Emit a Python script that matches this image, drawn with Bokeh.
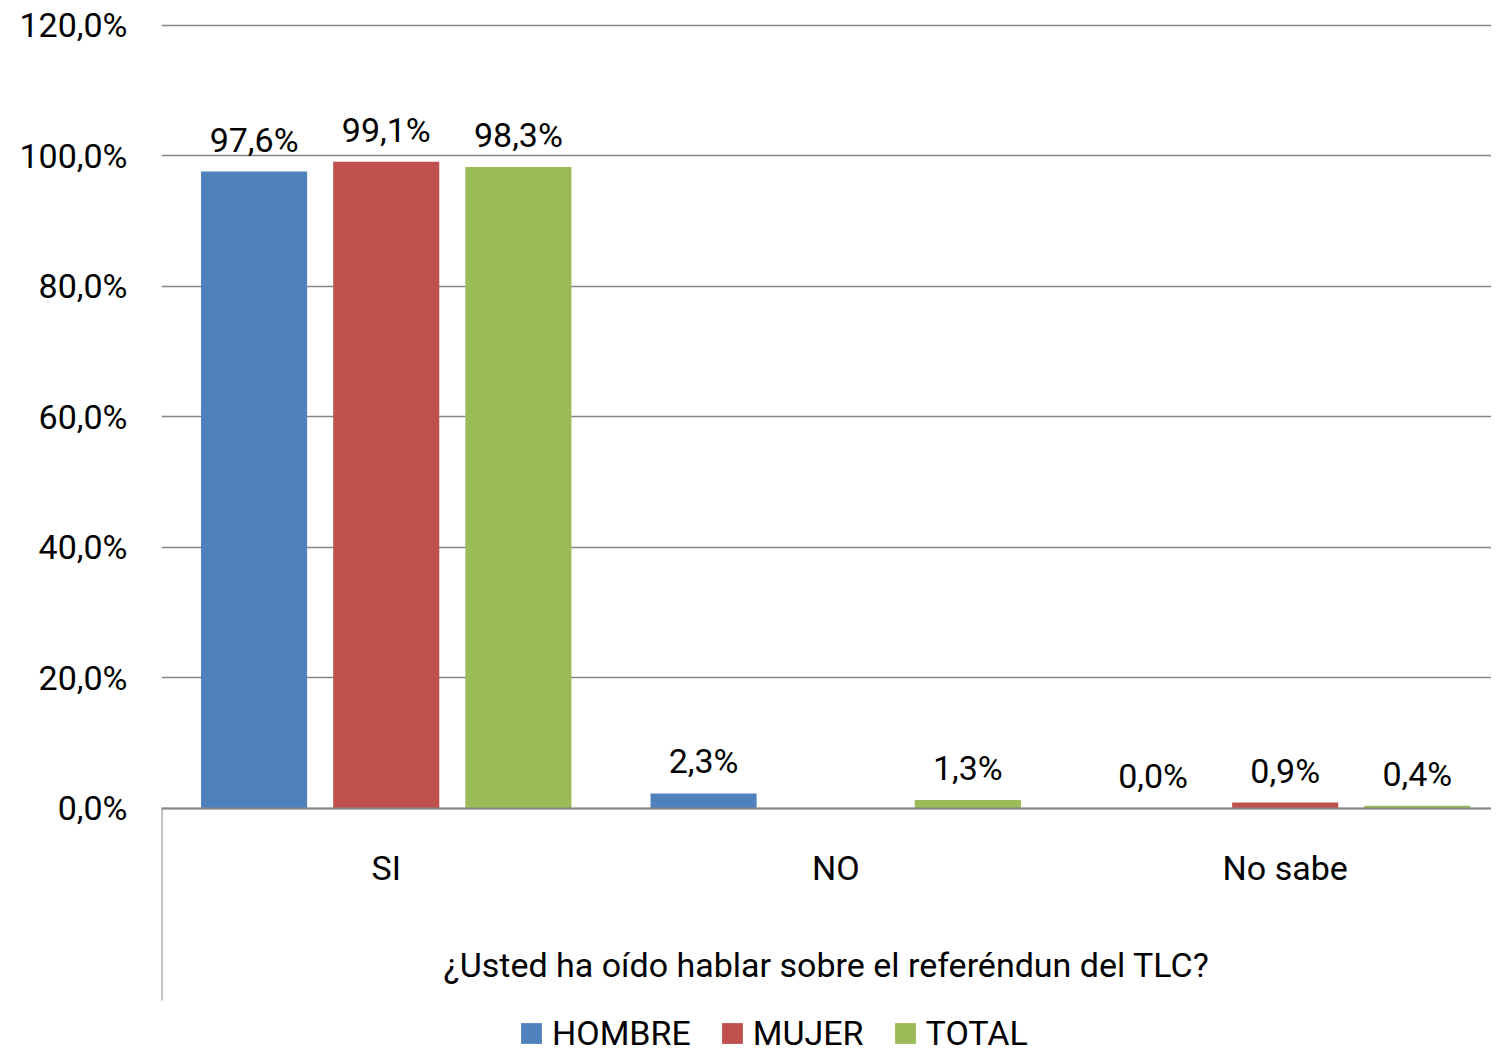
import math
from bokeh.plotting import figure
from bokeh.models import (Range1d, ColumnDataSource, FixedTicker, LinearAxis,
                          Legend, LegendItem)
from bokeh.transform import dodge
from bokeh.core.properties import value
from bokeh.embed import file_html
from bokeh.resources import INLINE

# ---- data ----
categories = ["SI", "NO", "No sabe"]
series_names = ["HOMBRE", "MUJER", "TOTAL"]
hombre = [97.6, 2.3, 0.0]
mujer = [99.1, None, 0.9]
total = [98.3, 1.3, 0.4]
y_ticks = [0, 20, 40, 60, 80, 100, 120]
y_tick_labels = ["0,0%", "20,0%", "40,0%", "60,0%", "80,0%", "100,0%", "120,0%"]
axis_title = "¿Usted ha oído hablar sobre el referéndun del TLC?"

# ---- style ----
colors = ["#4F81BD", "#C0504D", "#9BBB59"]
offsets = [-0.294, 0.0, 0.294]
bar_width = 0.236
FONT = "Roboto"
FS = "34px"
GRAY = "#868686"

# category slots: each category occupies one unit on the x scale
cat_pos = [i + 0.5 for i in range(len(categories))]

p = figure(x_range=Range1d(0, 2.959),
           y_range=Range1d(-37.55, 120.3),
           width=1491, height=1053, output_backend="svg", toolbar_location=None,
           min_border_left=161, min_border_right=0, min_border_top=23, min_border_bottom=0)
p.outline_line_color = None
p.background_fill_color = "white"
p.border_fill_color = "white"

# category axis drawn at y = 0 inside the extended frame
xa = p.xaxis[0]
xa.fixed_location = 0
xa.ticker = FixedTicker(ticks=cat_pos)
xa.major_label_overrides = {c: n for c, n in zip(cat_pos, categories)}
xa.axis_line_color = GRAY
xa.axis_line_width = 2
xa.major_tick_line_color = None
xa.minor_tick_line_color = None
xa.major_label_standoff = 34
xa.major_label_text_font = FONT
xa.major_label_text_font_size = FS
xa.major_label_text_color = "black"
xa.axis_label = axis_title
xa.axis_label_standoff = 53
xa.axis_label_text_font = FONT
xa.axis_label_text_font_size = FS
xa.axis_label_text_font_style = "normal"
xa.axis_label_text_color = "black"

ya = p.yaxis[0]
ya.ticker = FixedTicker(ticks=y_ticks)
ya.major_label_overrides = {t: l for t, l in zip(y_ticks, y_tick_labels)}
ya.axis_line_color = None
ya.major_tick_line_color = None
ya.minor_tick_line_color = None
ya.major_label_standoff = 28
ya.major_label_text_font = FONT
ya.major_label_text_font_size = FS
ya.major_label_text_color = "black"

p.xgrid.visible = False
p.ygrid.grid_line_color = GRAY
p.ygrid.grid_line_width = 1.3

# vertical boundary line below the category axis
edge = LinearAxis(fixed_location=0, bounds=(-29.4, 0), ticker=FixedTicker(ticks=[]),
                  axis_line_color=GRAY, axis_line_width=2,
                  major_tick_line_color=None, minor_tick_line_color=None,
                  major_label_text_font_size="0px")
p.add_layout(edge, "left")

items = []
for name, vals, color, off in zip(series_names, [hombre, mujer, total], colors, offsets):
    src = ColumnDataSource(dict(
        x=cat_pos,
        val=[math.nan if v is None else v for v in vals],
        lbl=["" if v is None else f"{v:.1f}%".replace(".", ",") for v in vals],
    ))
    r = p.vbar(x=dodge("x", off), top="val", width=bar_width, source=src,
               fill_color=color, line_color=None)
    p.text(x=dodge("x", off), y="val", text="lbl", source=src,
           text_align="center", text_baseline="alphabetic", y_offset=-32,
           text_font=value(FONT), text_font_size=FS, text_color="black")
    items.append(LegendItem(label=name, renderers=[r]))

legend = Legend(items=items, location=(357, 0), orientation="horizontal",
                glyph_width=26, glyph_height=26, label_standoff=8, spacing=28,
                padding=0, margin=0, border_line_color=None, background_fill_alpha=0,
                label_text_font=FONT, label_text_font_size=FS, label_text_color="black")
p.add_layout(legend)

open("out.html", "w").write(file_html(p, INLINE))
